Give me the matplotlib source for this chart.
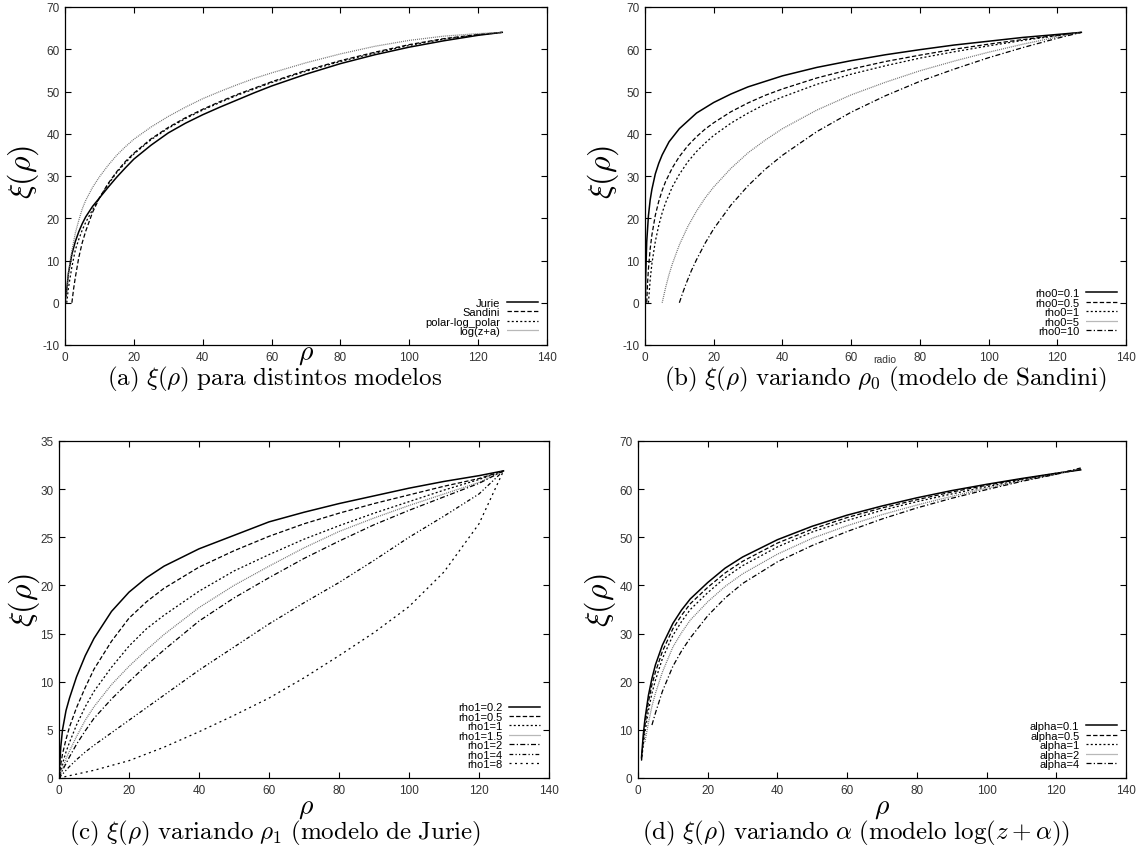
import matplotlib
matplotlib.use("Agg")
import matplotlib.pyplot as plt

plt.rcParams["font.family"] = ["Liberation Sans", "DejaVu Sans"]
plt.rcParams["mathtext.fontset"] = "cm"
plt.rcParams["axes.unicode_minus"] = False

# ---- (a) xi(rho) para distintos modelos ----
JURIE_X = [0.3, 1, 2, 3, 4, 5, 6, 8, 10, 12.5, 15, 17.5, 20, 25, 30, 35, 40, 45, 50, 55, 60, 70, 80, 90, 100, 110, 120, 127]
JURIE_Y = [1.5, 7, 11.5, 14.5, 16.8, 18.7, 20.3, 22.8, 24.8, 27.3, 29.7, 31.9, 34, 37.3, 40.2, 42.5, 44.5, 46.3, 48, 49.7, 51.3, 54.1, 56.6, 58.7, 60.5, 62, 63.3, 64]
SANDINI_X = [2, 2.5, 3, 4, 5, 6, 8, 10, 12.5, 15, 17.5, 20, 25, 30, 35, 40, 45, 50, 55, 60, 70, 80, 90, 100, 110, 120, 127]
SANDINI_Y = [0, 3.3, 6, 10.7, 14.2, 16.9, 21.4, 24.8, 28.2, 31, 33.4, 35.4, 38.8, 41.5, 43.8, 45.8, 47.6, 49.3, 50.8, 52.3, 55, 57.3, 59.3, 61.1, 62.5, 63.5, 64]
POLAR_X = [0.5, 1, 2, 3, 4, 5, 6, 8, 10, 12.5, 15, 17.5, 20, 25, 30, 35, 40, 45, 50, 55, 60, 70, 80, 90, 100, 110, 120, 127]
POLAR_Y = [0, 3.5, 8.5, 12.5, 15, 17.2, 19, 22, 24.8, 28, 30.8, 33.1, 35.2, 38.6, 41.3, 43.6, 45.6, 47.4, 49.1, 50.6, 52.1, 54.8, 57.1, 59.1, 60.9, 62.4, 63.4, 64]
LOGZ_X = [0.3, 1, 1.5, 2, 3, 4, 5, 6, 8, 10, 12.5, 15, 17.5, 20, 25, 30, 35, 40, 45, 50, 55, 60, 70, 80, 90, 100, 110, 120, 127]
LOGZ_Y = [0.5, 7, 10, 12.3, 16.5, 19.5, 22.2, 24.2, 27.3, 29.8, 32.5, 34.9, 36.9, 38.7, 41.6, 44.1, 46.3, 48.3, 50, 51.6, 53.1, 54.4, 56.8, 58.9, 60.7, 62.1, 63.1, 63.7, 64]

# ---- (b) variando rho0 (Sandini) ----
RHO0_01_X = [0.1, 0.2, 0.5, 1, 1.5, 2, 3, 4, 5, 7, 10, 15, 20, 25, 30, 40, 50, 60, 70, 80, 90, 100, 110, 120, 127]
RHO0_01_Y = [0, 6.2, 14.4, 20.6, 24.3, 26.8, 30.5, 33, 35, 38.1, 41.2, 44.9, 47.4, 49.4, 51.1, 53.7, 55.7, 57.3, 58.7, 59.9, 61, 61.9, 62.8, 63.5, 64]
RHO0_05_X = [0.5, 0.75, 1, 1.5, 2, 3, 4, 5, 6, 8, 10, 12.5, 15, 17.5, 20, 25, 30, 35, 40, 50, 60, 70, 80, 90, 100, 110, 120, 127]
RHO0_05_Y = [0, 4.7, 8, 12.7, 16, 20.7, 24, 26.6, 28.7, 32, 34.6, 37.2, 39.3, 41.1, 42.6, 45.2, 47.3, 49.1, 50.6, 53.2, 55.3, 57.1, 58.6, 60, 61.2, 62.3, 63.3, 64]
RHO0_1_X = [1, 1.5, 2, 3, 4, 5, 6, 8, 10, 12.5, 15, 17.5, 20, 25, 30, 35, 40, 50, 60, 70, 80, 90, 100, 110, 120, 127]
RHO0_1_Y = [0, 5.4, 9.2, 14.5, 18.3, 21.3, 23.7, 27.5, 30.4, 33.4, 35.8, 37.8, 39.6, 42.5, 44.9, 47, 48.7, 51.7, 54.1, 56.1, 57.9, 59.4, 60.8, 62.1, 63.2, 64]
RHO0_5_X = [5, 6, 7, 8, 10, 12.5, 15, 17.5, 20, 25, 30, 35, 40, 50, 60, 70, 80, 90, 100, 110, 120, 127]
RHO0_5_Y = [0, 3.6, 6.7, 9.3, 13.7, 18.1, 21.7, 24.8, 27.4, 31.8, 35.5, 38.5, 41.2, 45.6, 49.2, 52.2, 54.9, 57.2, 59.3, 61.2, 62.9, 64]
RHO0_10_X = [10, 11, 12, 13.5, 15, 17.5, 20, 25, 30, 35, 40, 50, 60, 70, 80, 90, 100, 110, 120, 127]
RHO0_10_Y = [0, 2.4, 4.6, 7.6, 10.2, 14.1, 17.5, 23.1, 27.7, 31.6, 34.9, 40.5, 45.1, 49, 52.4, 55.3, 58, 60.4, 62.6, 64]

# ---- (c) variando rho1 (Jurie) ----
RHO1_X = [0, 0.5, 1, 2, 3, 5, 7.5, 10, 15, 20, 25, 30, 40, 50, 60, 70, 80, 90, 100, 110, 120, 127]
RHO1_02 = [0, 3.2, 5, 7, 8.3, 10.5, 12.7, 14.5, 17.3, 19.3, 20.8, 22, 23.8, 25.2, 26.6, 27.6, 28.5, 29.3, 30.1, 30.8, 31.4, 31.9]
RHO1_05 = [0, 1.4, 2.5, 4, 5.3, 7.3, 9.4, 11.3, 14.2, 16.6, 18.3, 19.7, 21.9, 23.6, 25.1, 26.4, 27.5, 28.5, 29.4, 30.3, 31.1, 31.9]
RHO1_1 = [0, 0.8, 1.5, 2.7, 3.7, 5.5, 7.4, 9, 11.5, 13.7, 15.5, 16.9, 19.4, 21.5, 23.2, 24.8, 26.2, 27.5, 28.7, 29.9, 31, 31.9]
RHO1_15 = [0, 0.5, 1, 2, 2.8, 4.3, 6, 7.4, 9.7, 11.6, 13.3, 14.9, 17.7, 20, 22, 23.9, 25.6, 27, 28.3, 29.5, 30.7, 31.9]
RHO1_2 = [0, 0.4, 0.8, 1.5, 2.2, 3.5, 4.9, 6.2, 8.2, 10, 11.7, 13.3, 16.3, 18.7, 20.8, 22.8, 24.6, 26.3, 27.8, 29.2, 30.6, 31.9]
RHO1_4 = [0, 0.2, 0.4, 0.8, 1.2, 1.9, 2.7, 3.4, 4.7, 6, 7.3, 8.6, 11.2, 13.6, 16, 18.2, 20.3, 22.6, 25, 27.2, 29.5, 31.9]
RHO1_8 = [0, 0.04, 0.08, 0.16, 0.24, 0.4, 0.6, 0.8, 1.3, 1.8, 2.5, 3.2, 4.8, 6.5, 8.3, 10.4, 12.7, 15.1, 17.8, 21.4, 26.4, 31.9]

# ---- (d) variando alpha (log(z+alpha)) ----
ALPHA_X = [1, 1.5, 2, 3, 4, 5, 7, 10, 12.5, 15, 20, 25, 30, 40, 50, 60, 70, 80, 90, 100, 110, 120, 127]
ALPHA_01 = [4.2, 8.9, 12.3, 17.2, 20.7, 23.5, 27.6, 32.1, 34.9, 37.2, 40.6, 43.6, 45.9, 49.5, 52.3, 54.6, 56.5, 58.2, 59.7, 61, 62.2, 63.3, 64]
ALPHA_05 = [3.8, 7.8, 11, 15.8, 19.4, 22, 26.3, 31, 33.8, 36.2, 39.6, 42.6, 45, 48.8, 51.7, 54.1, 56.1, 57.8, 59.4, 60.8, 62.1, 63.3, 64.1]
ALPHA_1 = [3.6, 6.8, 9.5, 14, 17.6, 20.3, 24.8, 29.6, 32.5, 35, 38.5, 41.6, 44.1, 48, 51.1, 53.5, 55.6, 57.4, 59, 60.5, 61.9, 63.1, 64.2]
ALPHA_2_X = [2, 3, 4, 5, 7, 10, 12.5, 15, 20, 25, 30, 40, 50, 60, 70, 80, 90, 100, 110, 120, 127]
ALPHA_2 = [7.5, 11.5, 14.9, 17.6, 22, 27.2, 30.2, 32.8, 36.6, 39.8, 42.4, 46.5, 49.8, 52.4, 54.7, 56.7, 58.5, 60.2, 61.7, 63.1, 64.3]
ALPHA_4_X = [4, 5, 7, 10, 12.5, 15, 20, 25, 30, 40, 50, 60, 70, 80, 90, 100, 110, 120, 127]
ALPHA_4 = [11, 13.5, 18, 23.2, 26.4, 29.1, 33.7, 37.4, 40.4, 44.9, 48.3, 51.2, 53.8, 56.1, 58.1, 59.9, 61.6, 63.1, 64.4]

# gnuplot-like line types
STY = [
    dict(color="black", lw=1.1, ls="-"),
    dict(color="black", lw=0.9, ls=(0, (3.5, 1.8))),
    dict(color="black", lw=0.9, ls=(0, (1.6, 1.8))),
    dict(color="0.45", lw=0.9, ls=(0, (0.8, 0.8))),
    dict(color="black", lw=0.9, ls=(0, (4, 1.8, 1, 1.8))),
    dict(color="black", lw=0.9, ls=(0, (3, 1.8, 1, 1.8, 1, 1.8))),
    dict(color="black", lw=0.9, ls=(0, (1.6, 2.8))),
]

W, H = 1136, 862
fig = plt.figure(figsize=(W / 100, H / 100), dpi=100)


def box(l, t, r, b):
    return [l / W, 1 - b / H, (r - l) / W, (b - t) / H]


def setup(ax, ylim, yticks):
    ax.set_xlim(0, 140)
    ax.set_ylim(*ylim)
    ax.set_xticks(range(0, 141, 20))
    ax.set_yticks(yticks)
    ax.tick_params(direction="in", top=True, right=True, length=4.5, width=0.8,
                   labelsize=8.5, labelcolor="0.2", pad=4)
    for s in ax.spines.values():
        s.set_linewidth(0.9)


def legend(ax):
    ax.legend(loc="lower right", frameon=False, markerfirst=False, fontsize=8,
              handlelength=2.8, labelspacing=-0.05, handletextpad=0.6,
              borderaxespad=0.6, borderpad=0.2)


# (a)
ax = fig.add_axes(box(65, 8, 547, 346))
setup(ax, (-10, 70), range(-10, 71, 10))
for x, y, lab, st in [(JURIE_X, JURIE_Y, "Jurie", STY[0]),
                      (SANDINI_X, SANDINI_Y, "Sandini", STY[1]),
                      (POLAR_X, POLAR_Y, "polar-log_polar", STY[2]),
                      (LOGZ_X, LOGZ_Y, "log(z+a)", STY[3])]:
    ax.plot(x, y, label=lab, **st)
legend(ax)

# (b)
ax = fig.add_axes(box(645, 8, 1126, 346))
setup(ax, (-10, 70), range(-10, 71, 10))
for x, y, lab, st in [(RHO0_01_X, RHO0_01_Y, "rho0=0.1", STY[0]),
                      (RHO0_05_X, RHO0_05_Y, "rho0=0.5", STY[1]),
                      (RHO0_1_X, RHO0_1_Y, "rho0=1", STY[2]),
                      (RHO0_5_X, RHO0_5_Y, "rho0=5", STY[3]),
                      (RHO0_10_X, RHO0_10_Y, "rho0=10", STY[4])]:
    ax.plot(x, y, label=lab, **st)
legend(ax)

# (c)
ax = fig.add_axes(box(59, 442, 549, 779))
setup(ax, (0, 35), range(0, 36, 5))
for y, lab, st in zip([RHO1_02, RHO1_05, RHO1_1, RHO1_15, RHO1_2, RHO1_4, RHO1_8],
                      ["rho1=0.2", "rho1=0.5", "rho1=1", "rho1=1.5", "rho1=2", "rho1=4", "rho1=8"],
                      STY):
    ax.plot(RHO1_X, y, label=lab, **st)
legend(ax)

# (d)
ax = fig.add_axes(box(638, 442, 1126, 779))
setup(ax, (0, 70), range(0, 71, 10))
for x, y, lab, st in [(ALPHA_X, ALPHA_01, "alpha=0.1", STY[0]),
                      (ALPHA_X, ALPHA_05, "alpha=0.5", STY[1]),
                      (ALPHA_X, ALPHA_1, "alpha=1", STY[2]),
                      (ALPHA_2_X, ALPHA_2, "alpha=2", STY[3]),
                      (ALPHA_4_X, ALPHA_4, "alpha=4", STY[4])]:
    ax.plot(x, y, label=lab, **st)
legend(ax)


# axis labels and captions
def ftext(px, py, s, **kw):
    fig.text(px / W, 1 - py / H, s, ha="center", va="center", **kw)


for px, py in [(23, 172), (603, 172), (24, 600), (600, 600)]:
    ftext(px, py, r"$\xi(\rho)$", fontsize=23, rotation=90)
for px, py in [(306, 354), (306, 808), (882, 808)]:
    ftext(px, py, r"$\rho$", fontsize=20)
ftext(885, 360, "radio", fontsize=7.5, color="0.2")

ftext(275, 379, r"$\mathrm{(a)}\ \xi(\rho)\ \mathrm{para\ distintos\ modelos}$", fontsize=18)
ftext(885, 379, r"$\mathrm{(b)}\ \xi(\rho)\ \mathrm{variando}\ \rho_0\ \mathrm{(modelo\ de\ Sandini)}$", fontsize=18)
ftext(275, 833, r"$\mathrm{(c)}\ \xi(\rho)\ \mathrm{variando}\ \rho_1\ \mathrm{(modelo\ de\ Jurie)}$", fontsize=18)
ftext(856, 833, r"$\mathrm{(d)}\ \xi(\rho)\ \mathrm{variando}\ \alpha\ \mathrm{(modelo}\ \log(z+\alpha))$", fontsize=18)

fig.savefig("out.png", dpi=100)
